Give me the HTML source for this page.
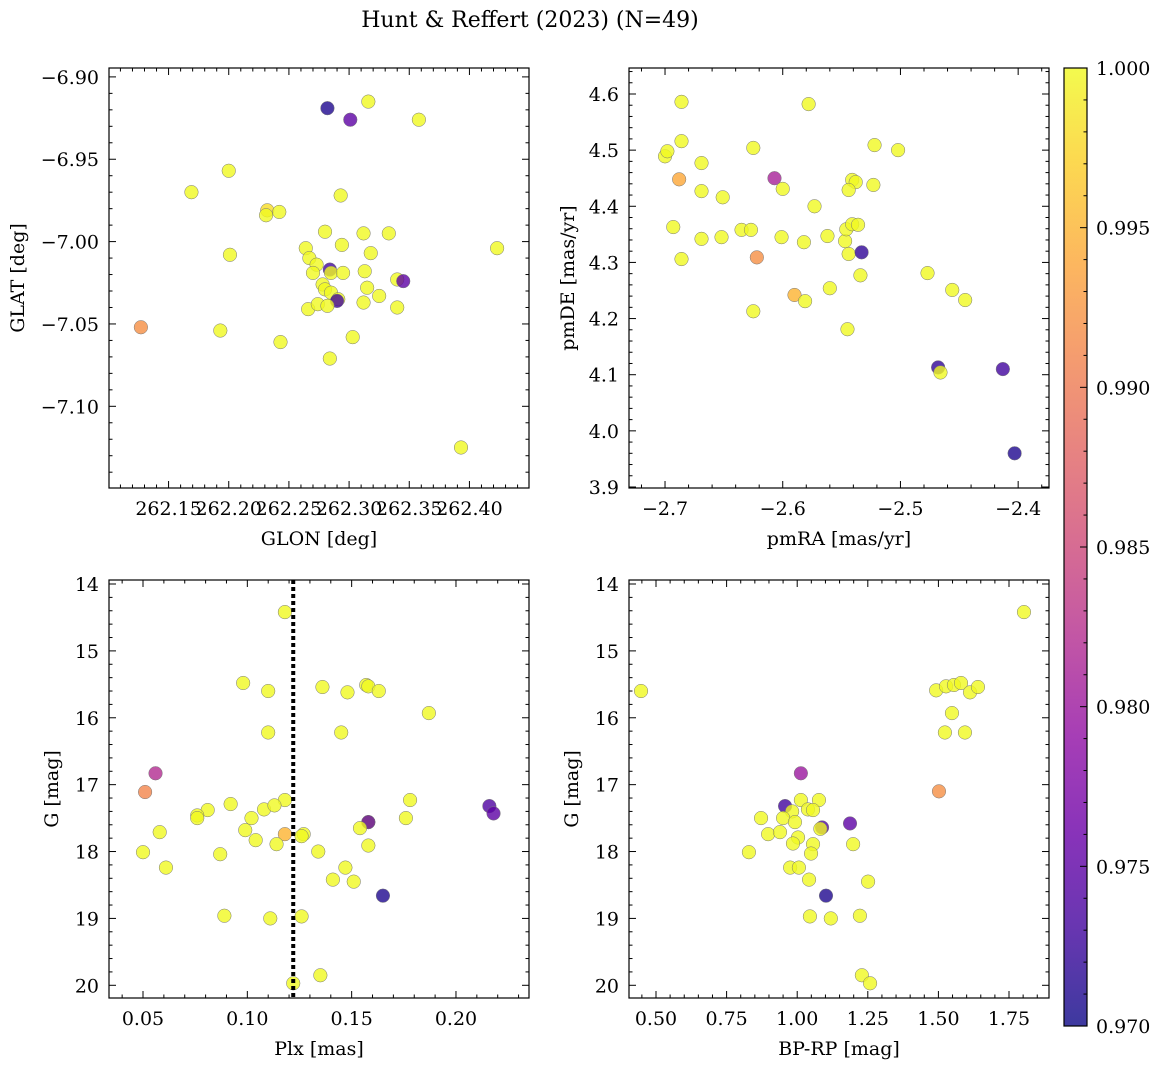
<!DOCTYPE html>
<html><head><meta charset="utf-8">
<style>
html,body{margin:0;padding:0;background:#fff;}
svg{display:block;font-family:"DejaVu Serif","Liberation Serif",serif;}
</style></head>
<body>
<svg id="fig" width="1161" height="1067" viewBox="0 0 1161 1067" xmlns="http://www.w3.org/2000/svg">
<rect width="1161" height="1067" fill="#fff"/>
<text x="530" y="27" font-size="22" text-anchor="middle">Hunt &amp; Reffert (2023) (N=49)</text>
</svg>
<script>
// ---- data ----
const glon=[262.282,262.301,262.316,262.358,262.169,262.200,262.232,262.231,262.242,262.293,262.201,262.280,262.264,262.294,262.312,262.333,262.423,262.318,262.267,262.273,262.270,262.284,262.285,262.295,262.313,262.340,262.345,262.278,262.280,262.285,262.291,262.315,262.325,262.290,262.312,262.266,262.274,262.282,262.340,262.127,262.193,262.243,262.303,262.284,262.393];
const glat=[-6.919,-6.926,-6.915,-6.926,-6.970,-6.957,-6.981,-6.984,-6.982,-6.972,-7.008,-6.994,-7.004,-7.002,-6.995,-6.995,-7.004,-7.007,-7.010,-7.014,-7.019,-7.017,-7.019,-7.019,-7.018,-7.023,-7.024,-7.026,-7.029,-7.031,-7.035,-7.028,-7.033,-7.036,-7.037,-7.041,-7.038,-7.039,-7.040,-7.052,-7.054,-7.061,-7.058,-7.071,-7.125];
const probA=[0.971,0.975,1,1,1,1,0.998,1,1,1,1,1,1,1,1,1,1,1,1,1,1,0.973,1,1,1,1,0.975,1,1,1,1,1,1,0.973,1,1,1,1,1,0.992,1,1,1,1,1];

const pmra=[-2.686,-2.578,-2.700,-2.698,-2.686,-2.625,-2.669,-2.522,-2.502,-2.688,-2.607,-2.669,-2.651,-2.600,-2.541,-2.538,-2.523,-2.544,-2.573,-2.693,-2.635,-2.627,-2.652,-2.669,-2.601,-2.582,-2.562,-2.547,-2.546,-2.541,-2.536,-2.686,-2.622,-2.544,-2.533,-2.560,-2.534,-2.477,-2.590,-2.581,-2.456,-2.445,-2.625,-2.545,-2.468,-2.466,-2.413,-2.403];
const pmde=[4.586,4.582,4.489,4.498,4.516,4.504,4.477,4.509,4.500,4.448,4.450,4.427,4.416,4.431,4.447,4.443,4.438,4.429,4.400,4.363,4.358,4.358,4.345,4.342,4.345,4.336,4.347,4.338,4.359,4.368,4.367,4.306,4.309,4.315,4.318,4.254,4.277,4.281,4.242,4.231,4.251,4.233,4.213,4.181,4.113,4.104,4.110,3.960];
const probB=[1,1,1,1,1,1,1,1,1,0.994,0.981,1,1,1,1,1,1,1,1,1,1,1,1,1,1,1,1,1,1,1,1,1,0.992,1,0.972,1,1,1,0.995,1,1,1,1,1,0.972,1,0.973,0.971];

const plx=[0.118,0.098,0.110,0.136,0.148,0.157,0.158,0.163,0.187,0.110,0.145,0.056,0.051,0.178,0.118,0.092,0.081,0.108,0.113,0.076,0.076,0.102,0.176,0.216,0.218,0.158,0.158,0.154,0.058,0.099,0.118,0.127,0.126,0.104,0.114,0.158,0.050,0.134,0.087,0.061,0.147,0.141,0.151,0.165,0.089,0.111,0.126,0.135,0.122];
const gmagC=[14.42,15.48,15.60,15.54,15.62,15.51,15.53,15.60,15.93,16.22,16.22,16.83,17.11,17.23,17.23,17.29,17.38,17.37,17.31,17.46,17.50,17.50,17.50,17.32,17.43,17.56,17.56,17.65,17.71,17.68,17.74,17.74,17.77,17.83,17.89,17.91,18.01,18.00,18.04,18.24,18.24,18.42,18.45,18.66,18.96,19.00,18.97,19.85,19.97];
const probC=[1,1,1,1,1,1,1,1,1,1,1,0.982,0.991,1,1,1,1,1,1,1,1,1,1,0.974,0.975,1,0.975,1,1,1,0.995,1,1,1,1,1,1,1,1,1,1,1,1,0.971,1,1,1,1,1];
const plxCut=0.122;

const bprp=[1.803,0.447,1.492,1.527,1.555,1.580,1.612,1.640,1.548,1.523,1.594,1.013,1.502,1.013,1.077,0.957,0.982,1.038,1.056,0.872,0.950,0.992,1.088,1.187,1.082,0.897,0.939,1.003,0.985,1.056,1.198,0.829,1.049,0.975,1.006,1.042,1.251,1.102,1.222,1.045,1.119,1.229,1.258];
const gmagD=[14.42,15.60,15.59,15.53,15.51,15.48,15.62,15.54,15.93,16.22,16.22,16.83,17.10,17.23,17.23,17.32,17.40,17.37,17.38,17.50,17.50,17.56,17.64,17.58,17.66,17.74,17.71,17.79,17.88,17.89,17.89,18.01,18.03,18.24,18.24,18.42,18.45,18.66,18.96,18.97,19.00,19.85,19.97];
const probD=[1,1,1,1,1,1,1,1,1,1,1,0.980,0.992,1,1,0.973,1,1,1,1,1,1,0.974,0.975,1,1,1,1,1,1,1,1,1,1,1,1,1,0.971,1,1,1,1,1];

const cbTicks=[0.970,0.975,0.980,0.985,0.990,0.995,1.000];

// ---- helpers ----
const NS="http://www.w3.org/2000/svg";
const svg=document.getElementById('fig');
const TF=19, LF=19;
function mk(tag,attrs,parent){const e=document.createElementNS(NS,tag);for(const k in attrs)e.setAttribute(k,attrs[k]);(parent||svg).appendChild(e);return e;}
const stops=[[0,[13,8,135]],[0.1,[65,4,157]],[0.2,[106,0,168]],[0.3,[143,13,164]],[0.4,[177,42,144]],[0.5,[204,71,120]],[0.6,[225,100,98]],[0.7,[242,132,75]],[0.8,[252,166,54]],[0.9,[252,206,37]],[1,[240,249,33]]];
function plasma(t){t=Math.max(0,Math.min(1,t));for(let i=1;i<stops.length;i++){if(t<=stops[i][0]){const a=stops[i-1],b=stops[i];const f=(t-a[0])/(b[0]-a[0]);const c=a[1].map((v,j)=>Math.round(v+(b[1][j]-v)*f));return `rgb(${c})`;}}return 'rgb(240,249,33)';}
const cmin=0.970,cmax=1.000;
function fmt(v,d){return (v<-1e-9?'\u2212':'')+Math.abs(v).toFixed(d);}

function panel(o){
  const g=mk('g',{});
  
  
  const sx=v=>o.x0+(v-o.xmin)/(o.xmax-o.xmin)*(o.x1-o.x0);
  const sy=o.invert? (v=>o.y0+(v-o.ymin)/(o.ymax-o.ymin)*(o.y1-o.y0)) : (v=>o.y1-(v-o.ymin)/(o.ymax-o.ymin)*(o.y1-o.y0));
  const pts=mk('g',{},g);
  
  
  o.xs.forEach((xv,i)=>{
    const c=mk('circle',{cx:sx(xv),cy:sy(o.ys[i]),r:6.8,fill:plasma((o.cs[i]-cmin)/(cmax-cmin)),'fill-opacity':0.8,stroke:'#777','stroke-width':0.5},pts);
    
    
  });
  if(o.vline!==undefined){
    const l=mk('line',{x1:sx(o.vline),x2:sx(o.vline),y1:o.y0,y2:o.y1,stroke:'#000','stroke-width':4,'stroke-dasharray':'4,3'},g);
    
    
  }
  const fr=mk('rect',{x:o.x0,y:o.y0,width:o.x1-o.x0,height:o.y1-o.y0,fill:'none',stroke:'#000','stroke-width':1.2},g);
  
  
  const eps=1e-9;
  const xs0=Math.ceil(o.xmin/o.xminor-eps)*o.xminor;
  for(let k=0;;k++){const v=xs0+k*o.xminor; if(v>o.xmax+eps)break;
    const X=sx(v);const isMaj=Math.abs(v/o.xmajor-Math.round(v/o.xmajor))<1e-6;const L=isMaj?7:3.5;
    mk('line',{x1:X,x2:X,y1:o.y1,y2:o.y1-L,stroke:'#000','stroke-width':1},g);
    mk('line',{x1:X,x2:X,y1:o.y0,y2:o.y0+L,stroke:'#000','stroke-width':1},g);
    if(isMaj){const t=mk('text',{x:X,y:o.y1+27,'font-size':TF,'text-anchor':'middle'},g);t.textContent=fmt(v,o.xd);
      }
  }
  const ys0=Math.ceil(o.ymin/o.yminor-eps)*o.yminor;
  for(let k=0;;k++){const v=ys0+k*o.yminor; if(v>o.ymax+eps)break;
    const Y=sy(v);const isMaj=Math.abs(v/o.ymajor-Math.round(v/o.ymajor))<1e-6;const L=isMaj?7:3.5;
    mk('line',{x1:o.x0,x2:o.x0+L,y1:Y,y2:Y,stroke:'#000','stroke-width':1},g);
    mk('line',{x1:o.x1,x2:o.x1-L,y1:Y,y2:Y,stroke:'#000','stroke-width':1},g);
    if(isMaj){const t=mk('text',{x:o.x0-10,y:Y+7,'font-size':TF,'text-anchor':'end'},g);t.textContent=fmt(v,o.yd);
      }
  }
  const xl=mk('text',{x:(o.x0+o.x1)/2,y:o.y1+57,'font-size':LF,'text-anchor':'middle'},g);xl.textContent=o.xlabel;
  
  const yx=o.ylx, yy=(o.y0+o.y1)/2;
  const yl=mk('text',{x:yx,y:yy,'font-size':LF,'text-anchor':'middle',transform:`rotate(-90 ${yx} ${yy})`},g);yl.textContent=o.ylabel;
  
}

panel({name:'glon-glat-panel',x0:109,x1:529,y0:68,y1:488,xmin:262.1005,xmax:262.4495,ymin:-7.1496,ymax:-6.8946,
  xmajor:0.05,xminor:0.01,ymajor:0.05,yminor:0.01,xd:2,yd:2,xs:glon,ys:glat,cs:probA,xlabel:'GLON [deg]',ylabel:'GLAT [deg]',ylx:24});
panel({name:'pm-panel',x0:629,x1:1049,y0:68,y1:488,xmin:-2.7306,xmax:-2.3738,ymin:3.8982,ymax:4.6463,
  xmajor:0.1,xminor:0.02,ymajor:0.1,yminor:0.02,xd:1,yd:1,xs:pmra,ys:pmde,cs:probB,xlabel:'pmRA [mas/yr]',ylabel:'pmDE [mas/yr]',ylx:574});
panel({name:'plx-g-panel',x0:109,x1:529,y0:580,y1:998,invert:true,xmin:0.0337,xmax:0.2350,ymin:13.94,ymax:20.19,
  xmajor:0.05,xminor:0.01,ymajor:1,yminor:0.2,xd:2,yd:0,xs:plx,ys:gmagC,cs:probC,vline:plxCut,xlabel:'Plx [mas]',ylabel:'G [mag]',ylx:58});
panel({name:'cmd-panel',x0:629,x1:1049,y0:580,y1:998,invert:true,xmin:0.4044,xmax:1.8916,ymin:13.94,ymax:20.19,
  xmajor:0.25,xminor:0.05,ymajor:1,yminor:0.2,xd:2,yd:0,xs:bprp,ys:gmagD,cs:probD,xlabel:'BP-RP [mag]',ylabel:'G [mag]',ylx:578});
</script>
<script>
(function(){
  const g=mk('g',{});
  
  
  const x0=1064,x1=1087,y0=68,y1=1026;
  const defs=mk('defs',{},g);
  const lg=mk('linearGradient',{id:'cbg',x1:0,y1:1,x2:0,y2:0},defs);
  for(let i=0;i<=20;i++){mk('stop',{offset:i/20,'stop-color':plasma(i/20),'stop-opacity':0.8},lg);}
  mk('rect',{x:x0,y:y0,width:x1-x0,height:y1-y0,fill:'url(#cbg)',stroke:'#000','stroke-width':1.2},g);
  const sy=v=>y1-(v-cmin)/(cmax-cmin)*(y1-y0);
  for(let k=0;k<=30;k++){const v=cmin+k*0.001;const Y=sy(v);const maj=k%5===0;
    mk('line',{x1:x1,x2:x1-(maj?7:3.5),y1:Y,y2:Y,stroke:'#000','stroke-width':1},g);}
  cbTicks.forEach(v=>{const t=mk('text',{x:x1+9,y:sy(v)+7,'font-size':TF},g);t.textContent=v.toFixed(3);
    });
})();
</script>
</body></html>
